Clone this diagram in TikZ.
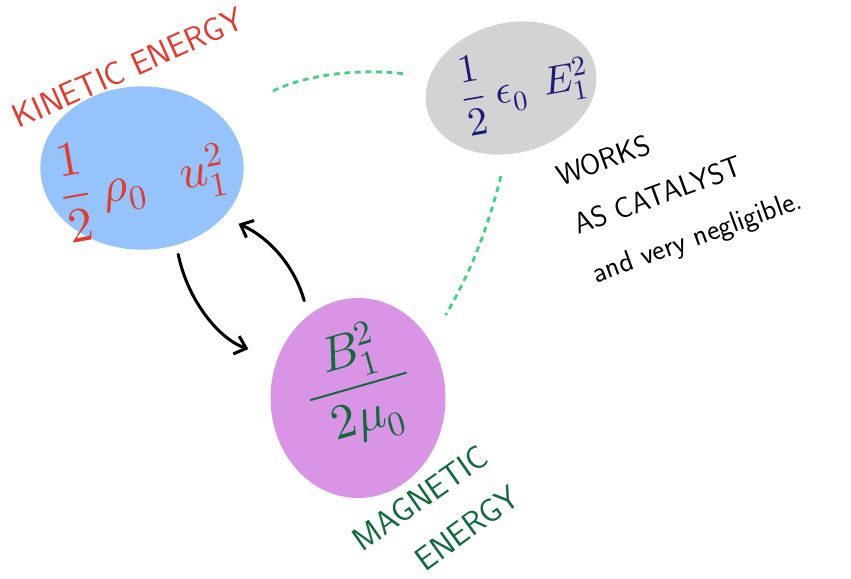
\documentclass[tikz,border=0pt]{standalone}
\usepackage{fontspec}
\usepackage{unicode-math}
\usetikzlibrary{arrows.meta,positioning,shapes.geometric}
\definecolor{kinblue}{HTML}{95C3FB}
\definecolor{elgray}{HTML}{D3D3D3}
\definecolor{magpurple}{HTML}{D994E5}
\definecolor{kinred}{HTML}{E53A2B}
\definecolor{elnavy}{HTML}{1C1B78}
\definecolor{maggreen}{HTML}{0F6B3A}
\definecolor{linkgreen}{HTML}{3DD47C}

\begin{document}
\begin{tikzpicture}[
    x=0.03cm,y=-0.03cm,
    blob/.style={ellipse,inner sep=0pt},
    formula/.style={font=\fontsize{42}{48}\selectfont},
    lbl/.style={font=\sffamily\fontsize{28}{32}\selectfont},
    note/.style={align=left,font=\sffamily\fontsize{25}{44}\selectfont},
    arr/.style={-{Straight Barb[length=9pt,width=16pt]},line width=2.6pt,line cap=round},
    link/.style={linkgreen,line width=2.4pt,dash pattern=on 5pt off 4pt}
]
\useasboundingbox (0,0) rectangle (851,578);

% energy blobs
\node[blob,fill=kinblue,minimum width=6.1cm,minimum height=4.9cm] (kin) at (142,168) {};
\node[blob,fill=elgray,minimum width=5.2cm,minimum height=3.9cm,rotate=15] (el) at (511,88) {};
\node[blob,fill=magpurple,minimum width=5.25cm,minimum height=6cm] (mag) at (358,398) {};

% what sits inside them
\node[formula,kinred,rotate=10,font=\fontsize{42}{48}\selectfont] (kinf) at (143,180) {$\dfrac{1}{2}\;\rho_0\;\;\, u_1^2$};
\node[formula,elnavy,rotate=10,font=\fontsize{34}{40}\selectfont] (elf) at (525,86) {$\dfrac{1}{2}\;\epsilon_0\;\, E_1^2$};
\node[formula,maggreen,rotate=16] (magf) at (358,385) {$\dfrac{\;\,B_1^2\;\,}{2\mu_0}$};

% labels
\node[lbl,kinred,rotate=24] (kinlbl) at (128,68) {KINETIC ENERGY};
\node[lbl,maggreen,rotate=35] (maglbl) at (420,498) {MAGNETIC};
\node[lbl,maggreen,rotate=36] (maglbl2) at (467,528) {ENERGY};
\node[note,rotate=20] (elnote) at (680,190) {WORKS\\AS CATALYST\\and very negligible.};

% exchange kinetic <-> magnetic
\draw[arr,shorten <=13pt,shorten >=14pt] (mag.121) to[bend right=25] (kin.-31);
\draw[arr,shorten <=8pt,shorten >=26pt] (kin.-66) to[bend right=30] (mag.154);

% electric part only links in
\draw[link,shorten <=23pt,shorten >=45pt] (el.157) to[bend right=18] (kin.31);
\draw[link,shorten <=19pt,shorten >=26pt] (el.-109) to[bend left=8] (mag.38);
\end{tikzpicture}
\end{document}
